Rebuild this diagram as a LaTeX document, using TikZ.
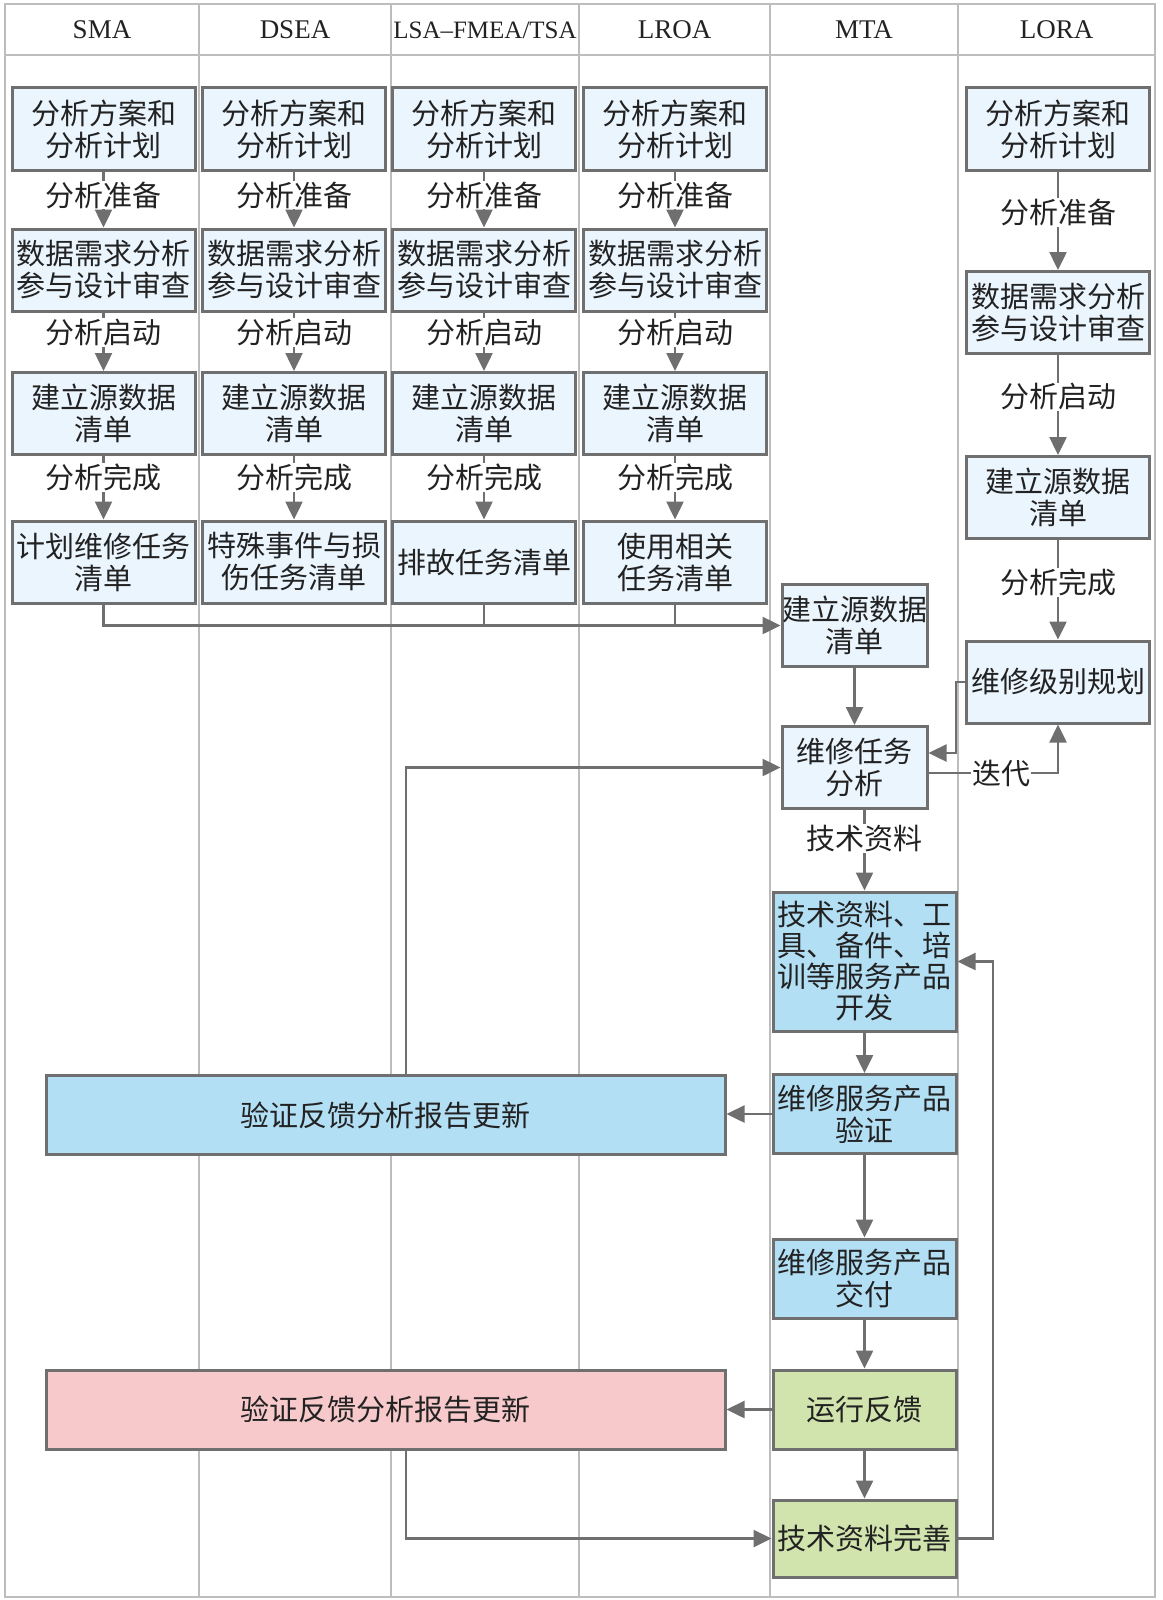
\documentclass[tikz,border=0pt]{standalone}
\usepackage{fontspec}
\setmainfont{Liberation Serif}
\newfontfamily\cjk{Noto Sans CJK SC}
\usetikzlibrary{arrows.meta,calc}
\definecolor{lanec}{HTML}{BDBDBD}
\definecolor{bordc}{HTML}{6F6F6F}
\definecolor{lightc}{HTML}{EBF5FE}
\definecolor{bluec}{HTML}{B3DFF5}
\definecolor{greenc}{HTML}{D1E4AE}
\definecolor{pinkc}{HTML}{F7C9CB}
\definecolor{txtc}{HTML}{222222}
\begin{document}
\begin{tikzpicture}[x=1pt,y=-1pt,
  lane/.style={draw=lanec,line width=2pt},
  head/.style={font=\fontsize{27}{30}\selectfont,text=txtc,inner sep=0pt},
  box/.style={draw=bordc,line width=3pt,fill=lightc,inner sep=0pt,align=center,
    text=txtc,font={\cjk\fontsize{29}{32}\selectfont},minimum width=183pt,minimum height=82pt},
  mbox/.style={box,minimum width=145pt,minimum height=82pt},
  wbox/.style={box,fill=bluec,minimum width=183pt,minimum height=79pt},
  gbox/.style={box,fill=greenc,minimum width=183pt,minimum height=79pt},
  bigbox/.style={box,minimum width=679pt,minimum height=79pt},
  arr/.style={draw=bordc,line width=2.5pt,-{Triangle[length=18pt,width=17pt]}},
  ln/.style={draw=bordc,line width=2.5pt},
  lbl/.style={fill=white,inner sep=1pt,text=txtc,font={\cjk\fontsize{29}{32}\selectfont}}
]
\useasboundingbox (0,0) rectangle (1162,1600);
% swimlanes
\draw[lane] (5,4) rectangle (1155,1597);
\draw[lane] (5,55) -- (1155,55);
\foreach \xx in {199,391,579,770,958} \draw[lane] (\xx,4) -- (\xx,1597);
\node[head] (hsma) at (102,30) {SMA};
\node[head] (hdsea) at (295,30) {DSEA};
\node[head,font=\fontsize{25}{30}\selectfont] (hlsa) at (485,30) {LSA–FMEA/TSA};
\node[head] (hlroa) at (674.5,30) {LROA};
\node[head] (hmta) at (864,30) {MTA};
\node[head] (hlora) at (1056.5,30) {LORA};

% four analysis columns
\foreach \c/\xx in {s/103.5,d/294,a/484,l/675}{
  \node[box] (\c1) at (\xx,129) {分析方案和\\分析计划};
  \node[box] (\c2) at (\xx,270) {数据需求分析\\参与设计审查};
  \node[box] (\c3) at (\xx,413.5) {建立源数据\\清单};
  \draw[arr] (\c1) -- (\c2) node[lbl,pos=0.42] {分析准备};
  \draw[arr] (\c2) -- (\c3) node[lbl,pos=0.34] {分析启动};
}
\node[box] (s4) at (103.5,562) {计划维修任务\\清单};
\node[box] (d4) at (294,562) {特殊事件与损\\伤任务清单};
\node[box] (a4) at (484,562) {排故任务清单};
\node[box] (l4) at (675,562) {使用相关\\任务清单};
\foreach \c in {s,d,a,l}{
  \draw[arr] (\c3) -- (\c4) node[lbl,pos=0.34] {分析完成};
}

% LORA column
\node[box] (r1) at (1058,129) {分析方案和\\分析计划};
\node[box] (r2) at (1058,312.5) {数据需求分析\\参与设计审查};
\node[box] (r3) at (1058,497.5) {建立源数据\\清单};
\node[box] (r4) at (1058,682) {维修级别规划};
\draw[arr] (r1) -- (r2) node[lbl,pos=0.42] {分析准备};
\draw[arr] (r2) -- (r3) node[lbl,pos=0.42] {分析启动};
\draw[arr] (r3) -- (r4) node[lbl,pos=0.43] {分析完成};

% MTA column
\node[mbox] (m1) at (854.5,625.5) {建立源数据\\清单};
\node[mbox] (m2) at (854.5,767.5) {维修任务\\分析};
\node[wbox,minimum height=139pt,font={\cjk\fontsize{29}{31}\selectfont}] (m3) at (864.5,961.5) {技术资料、工\\具、备件、培\\训等服务产品\\开发};
\node[wbox] (m4) at (864.5,1114) {维修服务产品\\验证};
\node[wbox] (m5) at (864.5,1278.5) {维修服务产品\\交付};
\node[gbox] (m6) at (864.5,1409.5) {运行反馈};
\node[gbox,minimum height=77pt] (m7) at (864.5,1538.5) {技术资料完善};

% wide feedback boxes
\node[bigbox,fill=bluec] (b1) at (385.5,1115) {验证反馈分析报告更新};
\node[bigbox,fill=pinkc] (p1) at (385.5,1409.5) {验证反馈分析报告更新};

% helper coordinates
\coordinate (k1) at (956,753);
\coordinate (k2) at (0,773);
\coordinate (k3) at (406,0);
\coordinate (k4) at (993,0);

% connectors
\draw[arr] (s4.south) |- (m1.west);
\draw[ln] (a4.south) -- (a4.south |- m1.west);
\draw[ln] (l4.south) -- (l4.south |- m1.west);
\draw[arr] (m1) -- (m2);
\draw[arr] (r4.west) -| (k1) -- (k1 -| m2.east);
\draw[arr] (m2.east |- k2) -| (r4.south) node[lbl,pos=0.28] {迭代};
\draw[arr] (m2.south -| m3.north) -- (m3.north) node[lbl,pos=0.35] {技术资料};
\draw[arr] (m3) -- (m4);
\draw[arr] (m4) -- (m5);
\draw[arr] (m5) -- (m6);
\draw[arr] (m6) -- (m7);
\draw[arr] (m4.west) -- (m4.west -| b1.east);
\draw[arr] (m6.west) -- (m6.west -| p1.east);
\draw[arr] (b1.north -| k3) |- (m2.west);
\draw[arr] (p1.south -| k3) |- (m7.west);
\draw[arr] (m7.east) -| (k4 |- m3.east) -- (m3.east);
\end{tikzpicture}
\end{document}
